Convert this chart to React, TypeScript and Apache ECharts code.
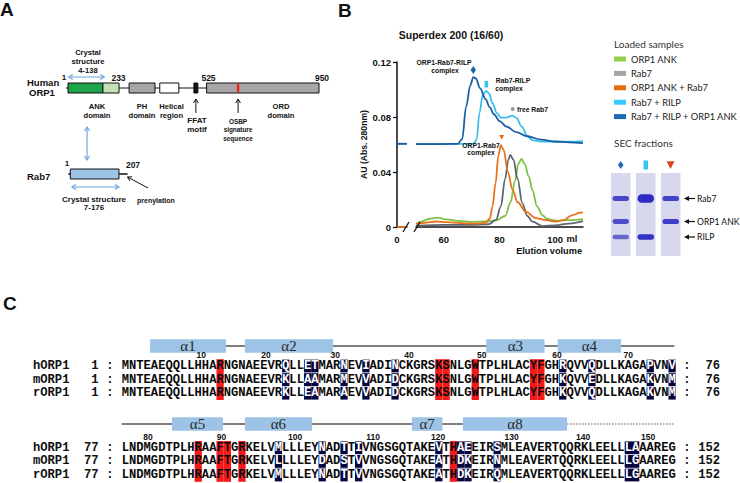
import React, { useEffect, useRef } from "react";
import * as echarts from "echarts";

// ================= Panel B : SEC elution profiles =================
const legendNames = ["ORP1 ANK", "Rab7", "ORP1 ANK + Rab7", "Rab7 + RILP", "Rab7 + RILP + ORP1 ANK"];

// ORP1 ANK (green)
const ankVol = [50, 52, 55, 57.8, 61, 65, 70, 75, 79, 82, 84, 85.5, 86.8, 87.9, 89, 90.5, 91.8, 93.5, 95.4, 97, 99, 101, 105, 110];
const ankAU = [0.002, 0.004, 0.006, 0.0068, 0.0055, 0.0045, 0.0038, 0.004, 0.005, 0.008, 0.018, 0.033, 0.046, 0.0495, 0.046, 0.037, 0.027, 0.015, 0.0087, 0.006, 0.005, 0.0045, 0.005, 0.0058];

// Rab7 (grey)
const rab7Vol = [50, 60, 70, 76, 78.7, 80.5, 82, 83.2, 83.9, 85, 86.5, 88.2, 90, 91.8, 95.4, 100, 105, 110];
const rab7AU = [0.001, 0.0015, 0.0015, 0.002, 0.005, 0.015, 0.035, 0.049, 0.0524, 0.049, 0.035, 0.0172, 0.008, 0.0039, 0.0007, 0.0012, 0.0025, 0.0042];

// ORP1 ANK + Rab7 (orange)
const mixVol = [50, 53, 57, 61, 66, 72, 75, 76.5, 77.5, 78.6, 79.6, 80.5, 81.5, 83, 84.7, 86.5, 89.5, 93, 96.7, 100, 103, 106, 109, 110];
const mixAU = [0.0025, 0.003, 0.004, 0.0035, 0.0028, 0.0025, 0.003, 0.006, 0.015, 0.032, 0.052, 0.0595, 0.056, 0.04, 0.027, 0.018, 0.011, 0.0065, 0.005, 0.004, 0.005, 0.0085, 0.0105, 0.0105];

// Rab7 + RILP (light blue, offset trace)
const rilpVol = [50, 60, 70, 71, 71.8, 72.8, 74, 75.2, 76.3, 77.5, 79, 80.5, 82.5, 84.5, 86, 88, 90, 92, 95, 100, 105, 110];
const rilpAU = [0.0605, 0.0605, 0.0605, 0.061, 0.064, 0.083, 0.096, 0.099, 0.097, 0.09, 0.083, 0.0795, 0.0795, 0.081, 0.0795, 0.073, 0.066, 0.063, 0.0622, 0.062, 0.062, 0.0625];

// Rab7 + RILP + ORP1 ANK (dark blue, offset trace)
const triVol = [50, 60, 65, 66.6, 68, 69.5, 70.6, 71.5, 73, 75, 76.5, 78, 80, 82.5, 86, 90, 95, 100, 105, 110];
const triAU = [0.0603, 0.0603, 0.0605, 0.064, 0.0875, 0.103, 0.109, 0.108, 0.101, 0.093, 0.087, 0.082, 0.077, 0.073, 0.069, 0.066, 0.0635, 0.0622, 0.0615, 0.061];

// segment before the axis break (0 ml)
const breakVol = [0, 3.5];
const breakBlueAU = [0.0605, 0.0605];
const breakBaseAU = [0, 0];

const xLabelValues = [60, 80, 100];

// SEC gel: band intensity per lane (Rab7, ORP1 ANK, RILP)
const gelBandNames = ["Rab7", "ORP1 ANK", "RILP"];
const gelIntensity = [
  [0.75, 0.7, 0.45],
  [1, 0, 0.95],
  [0.8, 0.85, 0],
];

// ================= Panel A : domain architecture =================
const orp1Length = 950;
const orp1AnkCore = [1, 133];
const orp1AnkExt = [133, 194];
const orp1PH = [232, 330];
const orp1Helical = [348, 420];
const orp1FFAT = [477, 492];
const orp1ORD = [525, 950];
const orp1OsbpSig = 644;
const orp1Crystal = [4, 138];
const rab7Length = 207;
const rab7Core = [1, 176];
const rab7Crystal = [7, 176];

// ================= Panel C : sequence alignment =================
const seqNames = ["hORP1", "mORP1", "rORP1"];
const block1Seqs = [
  "MNTEAEQQLLHHARNGNAEEVRQLLETMARNEVIADINCKGRSKSNLGWTPLHLACYFGHRQVVQDLLKAGAPVNV",
  "MNTEAEQQLLHHARNGNAEEVRKLLAAMARMEVVADIDCKGRSKSNLGWTPLHLACYFGHKQVVEDLLKAGAKVNM",
  "MNTEAEQQLLHHARNGNAEEVRKLLEAMARAEVVADIDCKGRSKSNLGWTPLHLACYFGHKQVVQDLLKAGAKVNM",
];
const block2Seqs = [
  "LNDMGDTPLHRAAFTGRKELVMLLLEYNADTTIVNGSGQTAKEVTHAEEIRSMLEAVERTQQRKLEELLLAAAREG",
  "LNDMGDTPLHRAAFTGRKELVLLLLEYDADSTVVNGSGQTAKEATHDKEIRNMLEAVERTQQRKLEELLLGAAREG",
  "LNDMGDTPLHRAAFTGRKELVMLLLEYNADTTVVNGSGQTAKEATHDKEIRQMLEAVERTQQRKLEELLLGAAREG",
];
const block1Range = [1, 76];
const block2Range = [77, 152];
const block1Red = [14, 44, 45, 49, 57, 58];
const block1Navy = [23, 26, 27, 31, 34, 38, 61, 65, 73, 76];
const block2Red = [87, 90, 91, 93, 122];
const block2Navy = [98, 104, 107, 109, 120, 123, 124, 128, 146, 147];
const block1Ticks = [10, 20, 30, 40, 50, 60, 70];
const block1TickPos = [11.4, 20.3, 29.8, 39.9, 49.9, 60.2, 70];
const block2Ticks = [80, 90, 100, 110, 120, 130, 140, 150];
const block2TickPos = [80.1, 90.2, 100.3, 111, 119.9, 130, 139.8, 148.7];
const block1Helices: [string, number, number][] = [["α1", 3.9, 14.3], ["α2", 16.9, 29], ["α3", 50, 58], ["α4", 59.8, 68.5]];
const block2Helices: [string, number, number][] = [["α5", 82.9, 89.9], ["α6", 92.9, 102.1], ["α7", 115.8, 120], ["α8", 122.8, 137.1]];
const block1Coil = [3.9, 75.8];
const block2Coil = [76, 137.1];
const block2Disordered = [137.1, 151.8];

// ================= helpers =================
const SANS = '"Liberation Sans", Arial, sans-serif';
const MONO = '"Liberation Mono", "Courier New", monospace';
const LATO = 'Lato, "Open Sans", sans-serif';
const SERIF = '"Liberation Serif", "Times New Roman", serif';

function txt(x: number, y: number, text: string, size: number, opt: any = {}) {
  const align = opt.align ?? "center";
  const va = opt.va ?? "middle";
  return {
    type: "text",
    x,
    y,
    z: opt.z ?? 20,
    silent: true,
    style: {
      text,
      fill: opt.fill ?? "#111",
      font: `${opt.weight ?? "bold"} ${size}px ${opt.family ?? SANS}`,
      align,
      verticalAlign: va,
      textAlign: align,
      textVerticalAlign: va,
    },
  };
}
function ln(x1: number, y1: number, x2: number, y2: number, stroke: string, lw = 1, extra: any = {}, z = 10) {
  return { type: "line", z, silent: true, shape: { x1, y1, x2, y2 }, style: { stroke, lineWidth: lw, ...extra } };
}
function rc(x: number, y: number, w: number, h: number, fill: string, stroke: string | null = null, lw = 1, z = 10, r = 0) {
  return {
    type: "rect",
    z,
    silent: true,
    shape: { x, y, width: w, height: h, r },
    style: { fill, stroke: stroke ?? undefined, lineWidth: stroke ? lw : 0 },
  };
}
function poly(points: number[][], fill: string, z = 15) {
  return { type: "polygon", z, silent: true, shape: { points }, style: { fill } };
}
function chevron(tx: number, ty: number, dx: number, dy: number, len: number, wid: number, stroke: string, lw: number) {
  const L = Math.hypot(dx, dy);
  const ux = dx / L, uy = dy / L, px = -uy, py = ux;
  return {
    type: "polyline",
    z: 12,
    silent: true,
    shape: {
      points: [
        [tx - ux * len + px * wid, ty - uy * len + py * wid],
        [tx, ty],
        [tx - ux * len - px * wid, ty - uy * len - py * wid],
      ],
    },
    style: { stroke, lineWidth: lw, fill: null },
  };
}
function arrow(x1: number, y1: number, x2: number, y2: number, stroke: string, lw: number, both: boolean, len = 4, wid = 2.6) {
  const out: any[] = [ln(x1, y1, x2, y2, stroke, lw)];
  out.push(chevron(x2, y2, x2 - x1, y2 - y1, len, wid, stroke, lw));
  if (both) out.push(chevron(x1, y1, x1 - x2, y1 - y2, len, wid, stroke, lw));
  return out;
}

function buildGraphics() {
  const g: any[] = [];
  // panel letters
  g.push(txt(0, 9.5, "A", 19, { align: "left" }));
  g.push(txt(338, 10, "B", 19, { align: "left" }));
  g.push(txt(3, 303, "C", 19, { align: "left" }));

  // ---------- Panel A ----------
  const orpX = (r: number) => 68 + ((r - 1) * 251) / (orp1Length - 1);
  const barTop = 83, barH = 10, barMid = 88;
  const small = 7.6;
  g.push(txt(88, 52, "Crystal", small));
  g.push(txt(88, 61, "structure", small));
  g.push(txt(88, 70, "4-138", small));
  g.push(...arrow(orpX(orp1Crystal[0]), 77, orpX(orp1Crystal[1]), 77, "#6fa5dc", 1.2, true));
  g.push(txt(64, 77, "1", 8));
  g.push(txt(118.5, 78, "233", 8.5));
  g.push(txt(208.5, 78, "525", 8.5));
  g.push(txt(322, 78, "950", 8.5));
  g.push(txt(27, 82.5, "Human", 9.5, { align: "left" }));
  g.push(txt(29, 92.5, "ORP1", 9.5, { align: "left" }));
  g.push(ln(orpX(1) - 2, barMid, orpX(orp1Length), barMid, "#111", 1.2));
  const dom = (a: number[], fill: string) =>
    rc(orpX(a[0]), barTop, orpX(a[1]) - orpX(a[0]), barH, fill, "#111", 1, 11);
  g.push(dom(orp1AnkCore, "#1ea54b"));
  g.push(dom(orp1AnkExt, "#c5e0b4"));
  g.push(dom(orp1PH, "#a6a6a6"));
  g.push(dom(orp1Helical, "#ffffff"));
  g.push(dom(orp1FFAT, "#111111"));
  g.push(dom(orp1ORD, "#a6a6a6"));
  g.push(rc(orpX(orp1OsbpSig) - 1.2, barTop + 0.5, 2.4, barH - 1, "#e8201e", null, 1, 12));
  g.push(txt(97, 106, "ANK", small));
  g.push(txt(97, 115, "domain", small));
  g.push(txt(142, 106, "PH", small));
  g.push(txt(142, 115, "domain", small));
  g.push(txt(171.5, 106, "Helical", small));
  g.push(txt(171.5, 115, "region", small));
  g.push(...arrow(orpX(484.5), 113, orpX(484.5), 99, "#111", 1, false, 4, 2.4));
  g.push(txt(197, 120.5, "FFAT", 8));
  g.push(txt(197, 129.5, "motif", 8));
  g.push(...arrow(orpX(orp1OsbpSig), 113, orpX(orp1OsbpSig), 99, "#111", 1, false, 4, 2.4));
  g.push(txt(238, 121, "OSBP", 6.4));
  g.push(txt(238, 129.5, "signature", 6.4));
  g.push(txt(238, 138, "sequence", 6.4));
  g.push(txt(281, 106, "ORD", small));
  g.push(txt(281, 115, "domain", small));
  // interaction arrow
  g.push(...arrow(87, 127, 87, 160, "#6fa5dc", 1.2, true));
  // Rab7
  const rabX = (r: number) => 70.3 + (r - 1) * 0.2781;
  g.push(txt(67, 163, "1", 8));
  g.push(txt(133, 165, "207", 8.5));
  g.push(txt(27, 176, "Rab7", 9.5, { align: "left" }));
  g.push(ln(rabX(1) - 2, 174, rabX(rab7Length), 174, "#111", 1.3));
  g.push(rc(rabX(rab7Core[0]), 169, rabX(rab7Core[1]) - rabX(rab7Core[0]), 10, "#9dc3e6", "#111", 1, 11));
  g.push(...arrow(148, 188, 127.5, 177, "#111", 1, false, 4, 2.4));
  g.push(txt(137, 200, "prenylation", 7, { align: "left" }));
  g.push(...arrow(rabX(rab7Crystal[0]), 187, rabX(rab7Crystal[1]), 187, "#6fa5dc", 1.2, true));
  g.push(txt(94, 199, "Crystal structure", 8));
  g.push(txt(94, 207.5, "7-176", 8));

  // ---------- Panel B annotations ----------
  g.push(txt(451, 35, "Superdex 200 (16/60)", 10.5));
  const ann = 6.8;
  g.push(txt(444, 62, "ORP1-Rab7-RILP", ann));
  g.push(txt(445, 70.5, "complex", ann));
  g.push(poly([[473.3, 66], [476, 70], [473.3, 74], [470.6, 70]], "#1e64ad"));
  g.push(txt(513, 80, "Rab7-RILP", ann));
  g.push(txt(509, 88, "complex", ann));
  g.push(rc(484.5, 81, 3.6, 6.5, "#33c4f0", null, 1, 15));
  g.push({ type: "circle", z: 15, silent: true, shape: { cx: 512.7, cy: 109, r: 2 }, style: { fill: "#9a9a9a" } });
  g.push(txt(517, 109, "free Rab7", ann, { align: "left" }));
  g.push(txt(481, 145, "ORP1-Rab7", ann));
  g.push(txt(481, 152.7, "complex", ann));
  g.push(poly([[499.2, 135], [504.2, 135], [501.7, 139.5]], "#e8661a"));
  g.push(ln(403, 232, 409, 222, "#111", 1.3));
  g.push(ln(414, 232, 420, 222, "#111", 1.3));
  g.push(txt(566.5, 239, "ml", 9.3, { align: "left" }));
  g.push(txt(582, 250.5, "Elution volume", 9.2, { align: "right" }));

  // legend header + gel
  g.push(txt(614, 44, "Loaded samples", 10, { align: "left", weight: "normal", family: LATO, fill: "#333" }));
  g.push(txt(614, 143, "SEC fractions", 10, { align: "left", weight: "normal", family: LATO, fill: "#333" }));
  const laneX = [611, 636, 661];
  const laneW = 19.5;
  const bandY = [198.5, 221.5, 237];
  laneX.forEach((lx, li) => {
    g.push(rc(lx, 173, laneW, 83, "#d7d7ee", null, 1, 10));
    gelIntensity[li].forEach((v, bi) => {
      if (v <= 0) return;
      const h = 3.5 + (v > 0.95 ? 5 : v * 2);
      const c = Math.round(150 - v * 105);
      g.push(rc(lx + 1.5, bandY[bi] - h / 2, laneW - 3, h, `rgb(${c},${c},${Math.round(215 - v * 20)})`, null, 1, 11, h / 2));
    });
  });
  const sy = 165;
  g.push(poly([[620.7, sy - 4], [623.5, sy], [620.7, sy + 4], [617.9, sy]], "#1e6bb8"));
  g.push(rc(643.5, sy - 4.5, 4.5, 9, "#33c4f0", null, 1, 15));
  g.push(poly([[666.5, sy - 3.8], [674.5, sy - 3.8], [670.5, sy + 4]], "#d9481c"));
  gelBandNames.forEach((name, i) => {
    const y = bandY[i];
    g.push(ln(688, y, 695, y, "#111", 1.2));
    g.push(poly([[684, y], [689, y - 2.6], [689, y + 2.6]], "#111"));
    g.push(txt(697, y, name, 8.6, { align: "left", weight: "normal", family: LATO, fill: "#111" }));
  });

  // ---------- Panel C ----------
  const X0 = 121.7, CW = 7.29, FS = 12.15, GAP = 13.6;
  const blocks = [
    { range: block1Range, seqs: block1Seqs, red: block1Red, navy: block1Navy, ticks: block1Ticks, tickPos: block1TickPos, helices: block1Helices, coil: block1Coil, dis: null as number[] | null, y0: 366, barY: 346, tickY: 355.3 },
    { range: block2Range, seqs: block2Seqs, red: block2Red, navy: block2Navy, ticks: block2Ticks, tickPos: block2TickPos, helices: block2Helices, coil: block2Coil, dis: block2Disordered, y0: 447.8, barY: 424, tickY: 436.8 },
  ];
  blocks.forEach((b) => {
    const s = b.range[0];
    const edgeX = (e: number) => X0 + (e - (s - 1)) * CW; // e = residue edge coordinate
    g.push(ln(edgeX(b.coil[0]), b.barY, edgeX(b.coil[1]), b.barY, "#7f7f7f", 2, {}, 8));
    if (b.dis) g.push(ln(edgeX(b.dis[0]), b.barY, edgeX(b.dis[1]), b.barY, "#8a8a8a", 1.5, { lineDash: [1.5, 1.5] }, 8));
    b.helices.forEach(([name, a, e]) => {
      g.push(rc(edgeX(a), b.barY - 6.8, edgeX(e) - edgeX(a), 13.6, "#9dc3e6", null, 1, 9));
      g.push(txt((edgeX(a) + edgeX(e)) / 2, b.barY, name, 15, { weight: "normal", family: SERIF, fill: "#2a2a2a" }));
    });
    b.ticks.forEach((t, i) => {
      g.push(txt(X0 + (b.tickPos[i] - s + 0.5) * CW, b.tickY, String(t), 8.5));
    });
    // red conserved-contact columns
    b.red.forEach((r) => {
      g.push(rc(X0 + (r - s) * CW, b.y0 - 6.8, CW, GAP * 2 + 13.6, "#f41a1a", null, 1, 11));
    });
    const navySet = new Set(b.navy);
    b.seqs.forEach((seq, ri) => {
      const y = b.y0 + ri * GAP;
      g.push(txt(33, y, seqNames[ri], FS, { align: "left", family: MONO }));
      g.push(txt(98.5, y, String(b.range[0]), FS, { align: "right", family: MONO }));
      g.push(txt(110, y, ":", FS, { family: MONO }));
      // residues: runs of plain letters, navy (variable) cells drawn as white-on-navy
      let runStart = 0;
      for (let c = 0; c <= seq.length; c++) {
        const isNavy = c < seq.length && navySet.has(s + c);
        if (c === seq.length || isNavy) {
          if (c > runStart) {
            g.push(txt(X0 + runStart * CW, y, seq.slice(runStart, c), FS, { align: "left", family: MONO, z: 12, fill: "#0a0a0a" }));
          }
          if (isNavy) {
            const x = X0 + c * CW;
            g.push(rc(x, y - 6.4, CW, 12.8, "#06063f", null, 1, 13));
            g.push(txt(x + CW / 2, y, seq[c], FS, { family: MONO, fill: "#ffffff", z: 14 }));
          }
          runStart = c + 1;
        }
      }
      g.push(txt(687, y, ":", FS, { family: MONO }));
      g.push(txt(720, y, String(b.range[1]), FS, { align: "right", family: MONO }));
    });
  });
  return g;
}

const pairs = (xs: number[], ys: number[]) => xs.map((x, i) => [x, ys[i]]);

function buildOption(): any {
  const lineColors = ["#7dc242", "#5d6672", "#e8711a", "#3cbdeb", "#1c5ea6"];
  const legendColors = ["#92d050", "#a6a6a6", "#e46c0a", "#33ccff", "#1e6bb8"];
  const mk = (name: string, data: number[][], color: string, axis: number, z: number) => ({
    name,
    type: "line",
    xAxisIndex: axis,
    yAxisIndex: axis,
    data,
    showSymbol: false,
    symbol: "none",
    smooth: 0.35,
    smoothMonotone: "x",
    z,
    lineStyle: { color, width: 1.8 },
    itemStyle: { color },
    emphasis: { disabled: true },
  });
  const axisFont = { color: "#111", fontWeight: "bold", fontSize: 9.5, fontFamily: SANS };
  return {
    animation: false,
    backgroundColor: "#ffffff",
    grid: [
      { left: 397, top: 62, width: 10, height: 165 },
      { left: 416, top: 62, width: 167, height: 165 },
    ],
    xAxis: [
      {
        gridIndex: 0, type: "value", min: 0, max: 3.5, interval: 10,
        axisLine: { lineStyle: { color: "#111", width: 1.5 } },
        axisTick: { show: false }, splitLine: { show: false },
        axisLabel: { ...axisFont, margin: 7, formatter: (v: number) => (v === 0 ? "0" : "") },
      },
      {
        gridIndex: 1, type: "value", min: 50, max: 110, interval: 10,
        axisLine: { lineStyle: { color: "#111", width: 1.5 } },
        axisTick: { show: false }, splitLine: { show: false },
        axisLabel: { ...axisFont, margin: 7, formatter: (v: number) => (xLabelValues.includes(v) ? String(v) : "") },
      },
    ],
    yAxis: [
      {
        gridIndex: 0, type: "value", min: 0, max: 0.12, interval: 0.04,
        axisLine: { show: true, lineStyle: { color: "#111", width: 1.5 } },
        axisTick: { show: true, length: 4, lineStyle: { color: "#111", width: 1.3 } },
        splitLine: { show: false },
        axisLabel: { ...axisFont, margin: 6, formatter: (v: number) => (v === 0 ? "0" : v.toFixed(2)) },
        name: "AU (Abs. 280nm)", nameLocation: "middle", nameGap: 25, nameRotate: 90,
        nameTextStyle: { color: "#111", fontWeight: "bold", fontSize: 8.6, fontFamily: SANS },
      },
      { gridIndex: 1, type: "value", min: 0, max: 0.12, interval: 0.04, show: false },
    ],
    legend: {
      left: 614, top: 53, orient: "vertical", icon: "rect", itemWidth: 12, itemHeight: 5, itemGap: 2.4,
      padding: 0, selectedMode: false,
      textStyle: { fontFamily: LATO, fontSize: 9.3, color: "#222", lineHeight: 12 },
      data: legendNames.map((n, i) => ({ name: n, itemStyle: { color: legendColors[i] } })),
    },
    series: [
      mk(legendNames[0], pairs(ankVol, ankAU), lineColors[0], 1, 2),
      mk(legendNames[1], pairs(rab7Vol, rab7AU), lineColors[1], 1, 3),
      mk(legendNames[2], pairs(mixVol, mixAU), lineColors[2], 1, 4),
      mk(legendNames[3], pairs(rilpVol, rilpAU), lineColors[3], 1, 5),
      mk(legendNames[4], pairs(triVol, triAU), lineColors[4], 1, 6),
      mk(legendNames[2], pairs(breakVol, breakBaseAU), lineColors[2], 0, 4),
      mk(legendNames[3], pairs(breakVol, breakBlueAU), lineColors[3], 0, 5),
      mk(legendNames[4], pairs(breakVol, breakBlueAU), lineColors[4], 0, 6),
    ],
    graphic: { elements: buildGraphics() },
  };
}

export default function App() {
  const ref = useRef<HTMLDivElement>(null);
  useEffect(() => {
    document.body.style.margin = "0";
    const chart = echarts.init(ref.current!, null, { renderer: "svg" });
    chart.setOption(buildOption());
    return () => chart.dispose();
  }, []);
  return <div ref={ref} style={{ width: 740, height: 483, background: "#fff" }} />;
}
